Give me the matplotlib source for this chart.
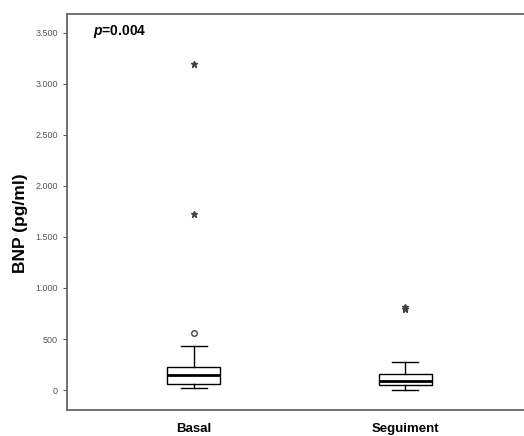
import matplotlib
matplotlib.use("Agg")
import matplotlib.pyplot as plt
from matplotlib.ticker import FuncFormatter

# box statistics (pg/ml)
groups = ["Basal", "Seguiment"]
q1 = [60, 50]
medians = [147, 88]
q3 = [225, 156]
whisker_low = [20, 0]
whisker_high = [430, 274]
# SPSS style: circles are outliers, stars are extreme values
outliers_circle = [[557], []]
outliers_star = [[1730, 3200], [795, 815]]
yticks = [0, 500, 1000, 1500, 2000, 2500, 3000, 3500]

plt.rcParams['font.family'] = ['Liberation Sans', 'DejaVu Sans']
plt.rcParams['mathtext.fontset'] = 'custom'
plt.rcParams['mathtext.bfit'] = 'Liberation Sans:italic:bold'

fig = plt.figure(figsize=(5.24, 4.36), dpi=100)
ax = fig.add_axes([67 / 524, 26 / 436, 465 / 524, 396 / 436])

stats = []
for i, name in enumerate(groups):
    stats.append({"label": name, "q1": q1[i], "med": medians[i], "q3": q3[i],
                  "whislo": whisker_low[i], "whishi": whisker_high[i], "fliers": []})

pos = [1, 2]
ax.bxp(stats, positions=pos, widths=0.25, showfliers=False, patch_artist=True,
       boxprops=dict(facecolor="white", edgecolor="black", linewidth=1.0),
       medianprops=dict(color="black", linewidth=2.0),
       whiskerprops=dict(color="black", linewidth=1.0),
       capprops=dict(color="black", linewidth=1.0), capwidths=0.125)

for i in range(len(groups)):
    if outliers_circle[i]:
        ax.plot([pos[i]] * len(outliers_circle[i]), outliers_circle[i], "o",
                mfc="none", mec="#444444", ms=4, mew=1.0)
    if outliers_star[i]:
        ax.plot([pos[i]] * len(outliers_star[i]), outliers_star[i], "*",
                color="#444444", ms=4.5)

ax.set_xlim(0.4, 2.6)
ax.set_ylim(-196, 3686)
ax.set_yticks(yticks)
ax.yaxis.set_major_formatter(FuncFormatter(lambda v, p: f"{int(v):,}".replace(",", ".")))
ax.tick_params(axis="y", labelsize=6.5, labelcolor="#555555", color="#555555", length=3, width=0.8)
ax.tick_params(axis="x", length=0, labelsize=9.5, pad=9)
for lab in ax.get_xticklabels():
    lab.set_fontweight("bold")

for s in ["left", "top", "bottom", "right"]:
    ax.spines[s].set_color("#666666")
    ax.spines[s].set_linewidth(1.3)

ax.set_ylabel("BNP (pg/ml)", fontsize=12.5, fontweight="bold", va="center")
ax.yaxis.set_label_coords(-0.099, 0.472)
ax.text(0.055, 0.955, r"$\boldsymbol{p}$=0.004", transform=ax.transAxes,
        fontsize=10, fontweight="bold", va="center", ha="left")

fig.savefig("out.png", dpi=100)
